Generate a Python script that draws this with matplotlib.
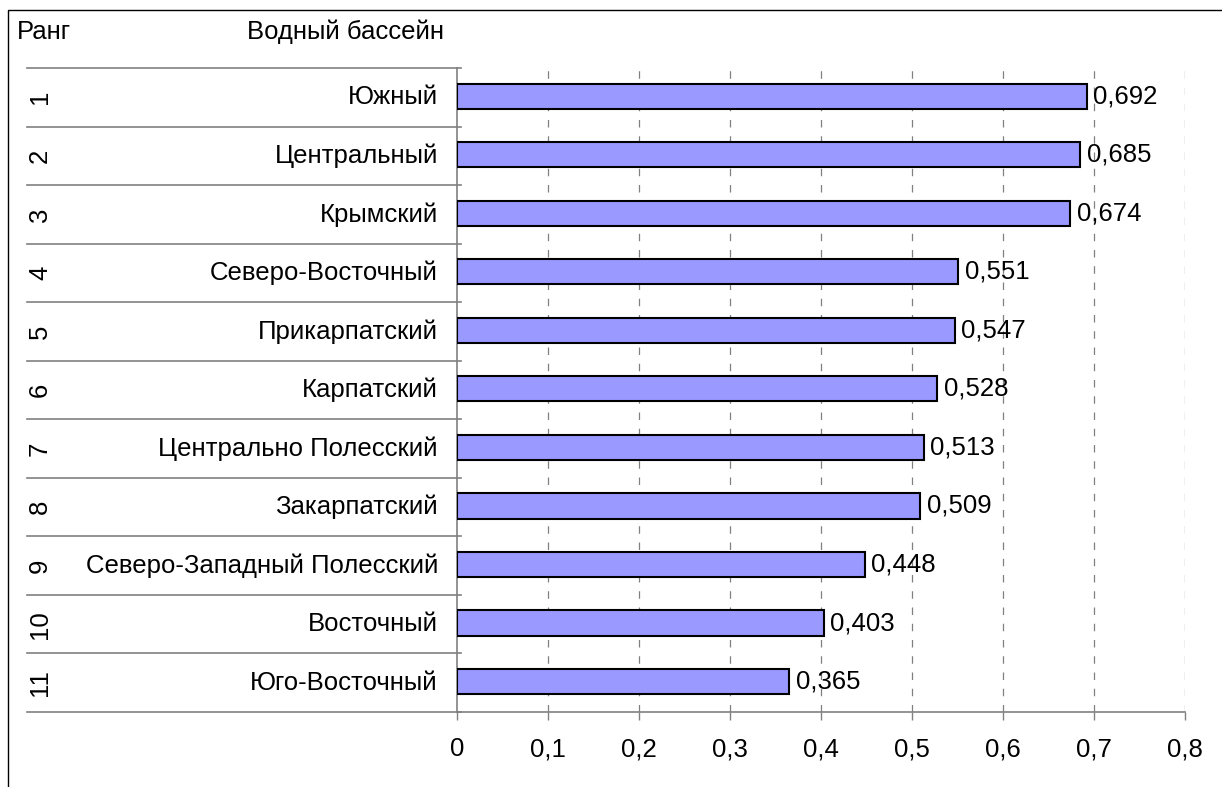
import matplotlib
matplotlib.use("Agg")
import matplotlib.pyplot as plt
from matplotlib.patches import Rectangle
from matplotlib.transforms import blended_transform_factory

plt.rcParams['font.family'] = ['Liberation Sans', 'DejaVu Sans']

ranks = ["1", "2", "3", "4", "5", "6", "7", "8", "9", "10", "11"]
basins = ["Южный", "Центральный", "Крымский", "Северо-Восточный", "Прикарпатский",
          "Карпатский", "Центрально Полесский", "Закарпатский",
          "Северо-Западный Полесский", "Восточный", "Юго-Восточный"]
values = [0.692, 0.685, 0.674, 0.551, 0.547, 0.528, 0.513, 0.509, 0.448, 0.403, 0.365]
x_ticks = [0, 0.1, 0.2, 0.3, 0.4, 0.5, 0.6, 0.7, 0.8]

W, H = 1222, 787
fig = plt.figure(figsize=(W / 100, H / 100), dpi=100)
fig.patch.set_facecolor("white")

# outer chart frame
fig.patches.append(Rectangle((8 / W, -0.1), 1.2, 1 - 10 / H + 0.1,
                             transform=fig.transFigure, fill=False,
                             edgecolor="black", linewidth=1.0))

left, right = 457 / W, 1185 / W
top, bottom = 1 - 68 / H, 1 - 712 / H
ax = fig.add_axes([left, bottom, right - left, top - bottom])

fs = 18.5
gray = "#808080"
n = len(basins)
ypos = list(range(n))

ax.barh([y - 0.02 for y in ypos], values, height=0.43, color="#9999FF",
        edgecolor="black", linewidth=1.5, zorder=3)
for y, v in zip(ypos, values):
    ax.text(v + 0.007, y - 0.02, f"{v:.3f}".replace(".", ","), va="center",
            ha="left", fontsize=fs, zorder=4)

ax.set_xlim(0, 0.8)
ax.set_ylim(n - 0.5, -0.5)
ax.set_xticks(x_ticks)
ax.set_xticklabels(["0" if t == 0 else f"{t:.1f}".replace(".", ",") for t in x_ticks],
                   fontsize=fs)
ax.tick_params(axis="x", length=6, width=1, color=gray, pad=12)
ax.set_yticks([])

for t in x_ticks[1:]:
    ax.axvline(t, color=gray, linestyle=(0, (6, 7)), linewidth=0.9, zorder=1)

for s in ["top", "right"]:
    ax.spines[s].set_visible(False)
for s in ["left", "bottom"]:
    ax.spines[s].set_color(gray)
    ax.spines[s].set_linewidth(1.2)

# row separators spanning the label columns
tr = blended_transform_factory(fig.transFigure, ax.transData)
for b in [i - 0.5 for i in range(n + 1)]:
    ax.plot([27 / W, 461 / W], [b, b], transform=tr, color=gray,
            linewidth=1.2, clip_on=False, zorder=2)

for y, r, name in zip(ypos, ranks, basins):
    ax.text(40 / W, y, r, transform=tr, rotation=90, ha="center", va="center",
            fontsize=fs)
    ax.text(438 / W, y, name, transform=tr, ha="right", va="center", fontsize=fs)

fig.text(17 / W, 1 - 32 / H, "Ранг", ha="left", va="center", fontsize=fs)
fig.text(247 / W, 1 - 32 / H, "Водный бассейн", ha="left", va="center", fontsize=fs)

fig.savefig("out.png", dpi=100)
